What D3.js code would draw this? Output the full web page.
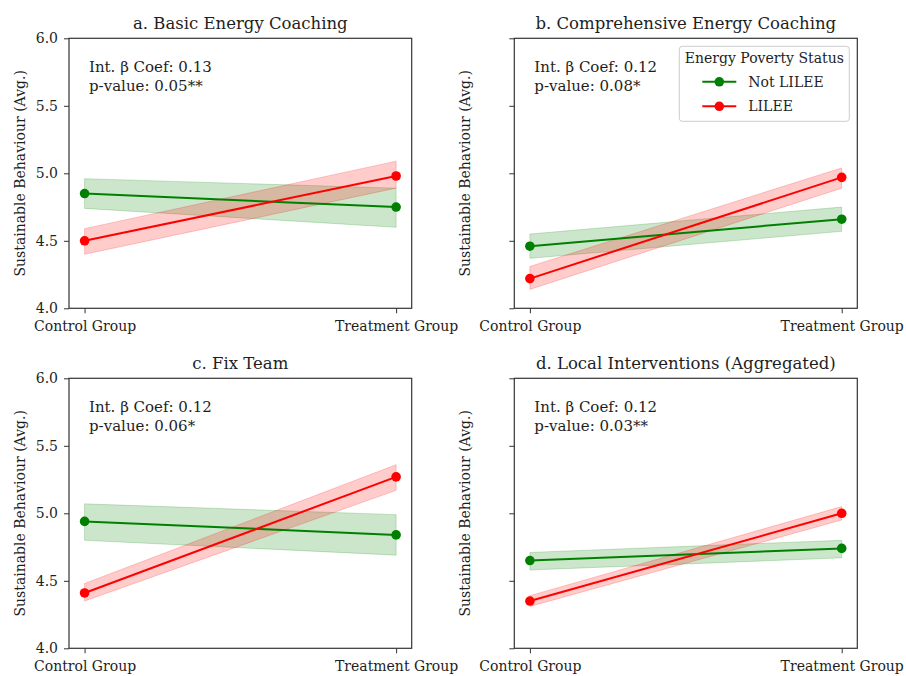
<!DOCTYPE html>
<html>
<head>
<meta charset="utf-8">
<script src="https://cdn.jsdelivr.net/npm/d3@7"></script>
<style>
  html, body { margin: 0; padding: 0; background: #fff; }
  svg text { font-family: "DejaVu Serif", "Liberation Serif", serif; fill: #1e1e1e; }
</style>
</head>
<body>
<svg id="chart" width="906" height="676"></svg>
<script>
// Groups on the x axis
const categories = ["Control Group", "Treatment Group"];

// Panel titles and interaction statistics
const panelTitles = [
  "a. Basic Energy Coaching",
  "b. Comprehensive Energy Coaching",
  "c. Fix Team",
  "d. Local Interventions (Aggregated)"
];
const coefLabels = ["Int. β Coef: 0.13", "Int. β Coef: 0.12", "Int. β Coef: 0.12", "Int. β Coef: 0.12"];
const pLabels = ["p-value: 0.05**", "p-value: 0.08*", "p-value: 0.06*", "p-value: 0.03**"];

// Not LILEE: mean and confidence band per panel [control, treatment]
const notLileeMean = [[4.85, 4.75], [4.46, 4.66], [4.94, 4.84], [4.65, 4.74]];
const notLileeLow  = [[4.74, 4.60], [4.37, 4.57], [4.80, 4.69], [4.58, 4.67]];
const notLileeHigh = [[4.96, 4.89], [4.55, 4.75], [5.07, 4.99], [4.71, 4.80]];

// LILEE: mean and confidence band per panel [control, treatment]
const lileeMean = [[4.50, 4.98], [4.22, 4.97], [4.41, 5.27], [4.35, 5.00]];
const lileeLow  = [[4.40, 4.89], [4.14, 4.89], [4.35, 5.17], [4.31, 4.95]];
const lileeHigh = [[4.59, 5.09], [4.31, 5.04], [4.48, 5.36], [4.39, 5.05]];

const yTicks = [4.0, 4.5, 5.0, 5.5, 6.0];
const yDomain = [4.0, 6.0];

const legendTitle = "Energy Poverty Status";
const seriesNames = ["Not LILEE", "LILEE"];
const seriesColors = ["#008000", "#ff0000"];

const svg = d3.select("#chart");

// Axes rectangles for the 2x2 grid
const colLeft = [69, 514.3], colRight = [411.7, 857.3];
const rowTop = [38.3, 378.3], rowBottom = [308.3, 648.3];

panelTitles.forEach((title, i) => {
  const col = i % 2, row = Math.floor(i / 2);
  const x0 = colLeft[col], x1 = colRight[col];
  const y0 = rowTop[row], y1 = rowBottom[row];

  const x = d3.scalePoint().domain(categories).range([x0, x1]).padding(0.05);
  const y = d3.scaleLinear().domain(yDomain).range([y1, y0]);

  const g = svg.append("g");

  const series = [
    { mean: notLileeMean[i], low: notLileeLow[i], high: notLileeHigh[i], color: seriesColors[0] },
    { mean: lileeMean[i], low: lileeLow[i], high: lileeHigh[i], color: seriesColors[1] }
  ];

  const band = d3.area()
    .x((d, k) => x(categories[k]))
    .y0(d => y(d[0]))
    .y1(d => y(d[1]));
  const line = d3.line()
    .x((d, k) => x(categories[k]))
    .y(d => y(d));

  // confidence bands
  series.forEach(s => {
    const pts = s.low.map((lo, k) => [lo, s.high[k]]);
    g.append("path")
      .attr("d", band(pts))
      .attr("fill", s.color).attr("fill-opacity", 0.2)
      .attr("stroke", s.color).attr("stroke-opacity", 0.2).attr("stroke-width", 1);
  });
  // mean lines and markers
  series.forEach(s => {
    g.append("path")
      .attr("d", line(s.mean))
      .attr("fill", "none").attr("stroke", s.color).attr("stroke-width", 2);
    g.selectAll(null).data(s.mean).enter().append("circle")
      .attr("cx", (d, k) => x(categories[k]))
      .attr("cy", d => y(d))
      .attr("r", 4.8)
      .attr("fill", s.color);
  });

  // axes
  const xAxis = d3.axisBottom(x).tickSize(5).tickPadding(8);
  const xg = g.append("g").attr("transform", `translate(0,${y1})`).call(xAxis);
  xg.select(".domain").remove();
  xg.selectAll("line").attr("stroke", "#333");
  xg.selectAll("text").attr("font-size", 14);

  const yAxis = d3.axisLeft(y).tickValues(yTicks).tickSize(5).tickPadding(6)
    .tickFormat(col === 0 ? d3.format(".1f") : () => "");
  const yg = g.append("g").attr("transform", `translate(${x0},0)`).call(yAxis);
  yg.select(".domain").remove();
  yg.selectAll("line").attr("stroke", "#333");
  yg.selectAll("text").attr("font-size", 14);

  // frame
  g.append("rect")
    .attr("x", x0).attr("y", y0).attr("width", x1 - x0).attr("height", y1 - y0)
    .attr("fill", "none").attr("stroke", "#333").attr("stroke-width", 1.2);

  // title
  g.append("text")
    .attr("x", (x0 + x1) / 2).attr("y", y0 - 9)
    .attr("text-anchor", "middle").attr("font-size", 16.5)
    .text(title);

  // y label
  g.append("text")
    .attr("transform", `translate(${x0 - 44},${(y0 + y1) / 2}) rotate(-90)`)
    .attr("text-anchor", "middle").attr("font-size", 14)
    .text("Sustainable Behaviour (Avg.)");

  // statistics annotation
  g.append("text").attr("x", x0 + 20).attr("y", y0 + 34).attr("font-size", 15).text(coefLabels[i]);
  g.append("text").attr("x", x0 + 20).attr("y", y0 + 53).attr("font-size", 15).text(pLabels[i]);

  // legend in panel b
  if (i === 1) {
    const lw = 170, lh = 75;
    const lx = x1 - 8 - lw, ly = y0 + 8;
    const lg = g.append("g");
    lg.append("rect").attr("x", lx).attr("y", ly).attr("width", lw).attr("height", lh)
      .attr("rx", 3).attr("fill", "#fff").attr("fill-opacity", 0.8)
      .attr("stroke", "#ccc").attr("stroke-width", 1);
    lg.append("text").attr("x", lx + lw / 2).attr("y", ly + 17)
      .attr("text-anchor", "middle").attr("font-size", 14).text(legendTitle);
    seriesNames.forEach((name, k) => {
      const yy = ly + 35.5 + k * 24.5;
      lg.append("line").attr("x1", lx + 23).attr("x2", lx + 57).attr("y1", yy).attr("y2", yy)
        .attr("stroke", seriesColors[k]).attr("stroke-width", 2);
      lg.append("circle").attr("cx", lx + 40).attr("cy", yy).attr("r", 4.8).attr("fill", seriesColors[k]);
      lg.append("text").attr("x", lx + 69).attr("y", yy + 5).attr("font-size", 14).text(name);
    });
  }
});
</script>
</body>
</html>
